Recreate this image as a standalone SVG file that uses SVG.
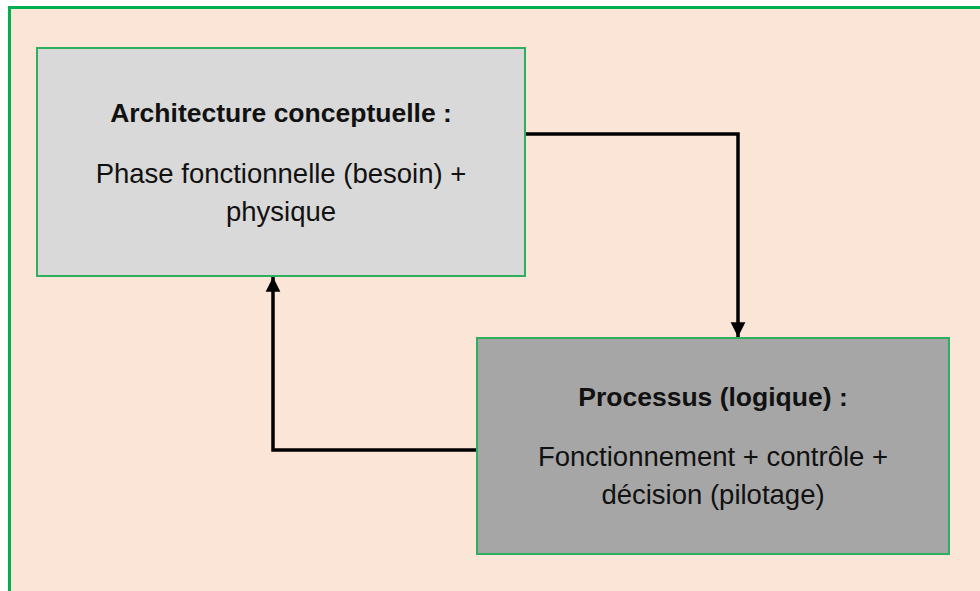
<svg xmlns="http://www.w3.org/2000/svg" width="980" height="591" viewBox="0 0 980 591">
<defs>
<style>
.frame{fill:#FAE5D7;stroke:#00B050;stroke-width:3}
.box{stroke:#2DAF5F;stroke-width:2}
.t{font-family:"Liberation Sans",Arial,sans-serif;font-size:27.5px;fill:#111;text-anchor:middle}
.b{font-weight:bold;font-size:26.5px}
.conn{fill:none;stroke:#000;stroke-width:3.5}
</style>
<marker id="arr" markerWidth="5" markerHeight="5" refX="4.2" refY="2.5" orient="auto" markerUnits="strokeWidth">
<path d="M0,0.4 L4.2,2.5 L0,4.6 Z" fill="#000"/>
</marker>
</defs>
<rect x="0" y="0" width="980" height="591" fill="#fff"/>
<rect class="frame" x="9.5" y="7.5" width="980" height="600"/>
<g id="connectors">
<path class="conn" d="M525,134 H738 V337" marker-end="url(#arr)"/>
<path class="conn" d="M477,450 H273 V277" marker-end="url(#arr)"/>
</g>
<g id="node-architecture">
<rect class="box" x="37" y="48" width="488" height="228" fill="#D9D9D9"/>
<text class="t b" x="281" y="122">Architecture conceptuelle :</text>
<text class="t" x="281" y="183">Phase fonctionnelle (besoin) +</text>
<text class="t" x="281" y="221">physique</text>
</g>
<g id="node-processus">
<rect class="box" x="477" y="338" width="472" height="216" fill="#A6A6A6"/>
<text class="t b" x="713" y="406">Processus (logique) :</text>
<text class="t" x="713" y="466">Fonctionnement + contrôle +</text>
<text class="t" x="713" y="504">décision (pilotage)</text>
</g>
</svg>
